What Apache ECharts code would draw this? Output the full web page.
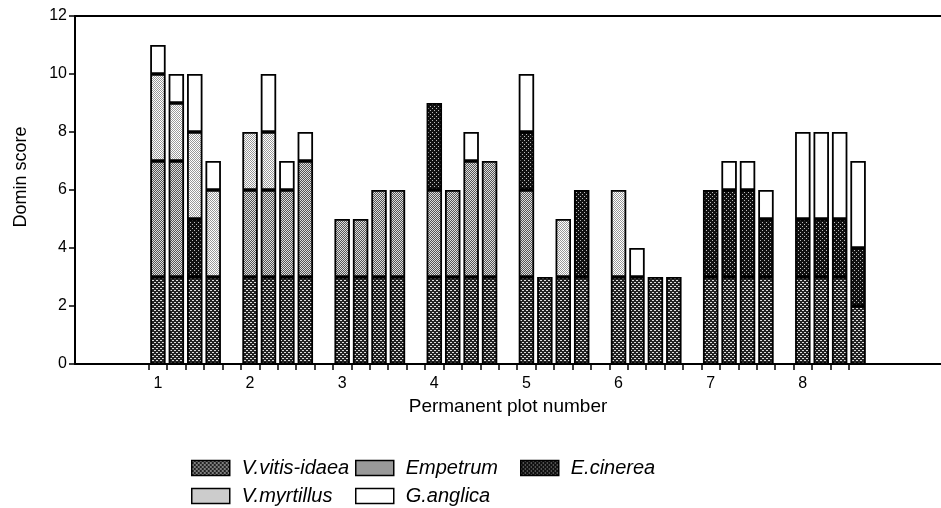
<!DOCTYPE html>
<html>
<head>
<meta charset="utf-8">
<script src="https://cdn.jsdelivr.net/npm/echarts@6/dist/echarts.min.js"></script>
<style>
html, body { margin: 0; background: #fff; }
#chart { width: 941px; height: 508px; }
</style>
</head>
<body>
<div id="chart"></div>
<script>
// permanent plots, 4 quadrats each
var plots = ['1', '2', '3', '4', '5', '6', '7', '8'];
// Domin scores per quadrat (32 bars, 4 per plot)
var vitisIdaea = [3,3,3,3, 3,3,3,3, 3,3,3,3, 3,3,3,3, 3,3,3,3, 3,3,3,3, 3,3,3,3, 3,3,3,2];
var empetrum   = [4,4,0,0, 3,3,3,4, 2,2,3,3, 3,3,4,4, 3,0,0,0, 0,0,0,0, 0,0,0,0, 0,0,0,0];
var cinerea    = [0,0,2,0, 0,0,0,0, 0,0,0,0, 3,0,0,0, 2,0,0,3, 0,0,0,0, 3,3,3,2, 2,2,2,2];
var myrtillus  = [3,2,3,3, 2,2,0,0, 0,0,0,0, 0,0,0,0, 0,0,2,0, 3,0,0,0, 0,0,0,0, 0,0,0,0];
var anglica    = [1,1,2,1, 0,2,1,1, 0,0,0,0, 0,0,1,0, 2,0,0,0, 0,1,0,0, 0,1,1,1, 3,3,3,3];
var yTicks = [0, 2, 4, 6, 8, 10, 12];

var LEAD = 4;      // empty slots before plot 1
var PER = 5;       // 4 bars + 1 gap
var NSLOT = 47;

var slots = [];
for (var i = 0; i < NSLOT; i++) slots.push('s' + i);

// x ticks sit on the slot edges from first bar of plot 1 to last bar of plot 8
var xTickEdges = [];
for (var e = LEAD; e <= LEAD + 7 * PER + 3; e++) xTickEdges.push(e);

function toSlots(arr) {
  var out = [];
  for (var i = 0; i < NSLOT; i++) out.push(null);
  for (var k = 0; k < arr.length; k++) {
    var g = Math.floor(k / 4), b = k % 4;
    out[LEAD + g * PER + b] = arr[k] ? arr[k] : null;
  }
  return out;
}

// halftone-ish fills
function dots(bg, fg, size, pts) {
  var c = document.createElement('canvas');
  c.width = c.height = size;
  var g = c.getContext('2d');
  g.fillStyle = bg;
  g.fillRect(0, 0, size, size);
  g.fillStyle = fg;
  pts.forEach(function (p) { g.fillRect(p[0], p[1], 1, 1); });
  return { image: c, repeat: 'repeat' };
}
var fills = {
  vv: dots('#222', '#ddd', 4, [[0,0],[1,0],[2,2],[3,2]]),
  emp: dots('#555', '#ddd', 2, [[0,0],[1,1]]),
  ecin: dots('#111', '#bbb', 4, [[0,0],[2,2]]),
  myrt: dots('#fff', '#999', 2, [[0,0],[1,1]]),
  gang: '#fff'
};

var names = ['V.vitis-idaea', 'Empetrum', 'E.cinerea', 'V.myrtillus', 'G.anglica'];
var datas = [vitisIdaea, empetrum, cinerea, myrtillus, anglica];
var keys = ['vv', 'emp', 'ecin', 'myrt', 'gang'];

var series = names.map(function (n, i) {
  return {
    name: n,
    type: 'bar',
    stack: 'all',
    barCategoryGap: '16%',
    data: toSlots(datas[i]),
    itemStyle: { color: fills[keys[i]], borderColor: '#000', borderWidth: 1.8 },
    emphasis: { disabled: true }
  };
});

var legendPos = [[191, 458], [355, 458], [520, 458], [191, 486], [355, 486]];
var legends = names.map(function (n, i) {
  return {
    data: [{ name: n, icon: 'rect' }],
    left: legendPos[i][0],
    top: legendPos[i][1],
    padding: 0,
    itemWidth: 38,
    itemHeight: 15,
    selectedMode: false,
    itemStyle: { borderColor: '#000', borderWidth: 1.5 },
    textStyle: { fontSize: 20, fontStyle: 'italic', color: '#000', padding: [0, 0, 0, 7] }
  };
});

var myChart = echarts.init(document.getElementById('chart'));
var option = {
  animation: false,
  textStyle: { fontFamily: 'Liberation Sans, Arial, sans-serif' },
  legend: legends,
  grid: { left: 75, right: -5, top: 16, bottom: 144 },
  xAxis: [
    {
      type: 'category',
      data: slots,
      position: 'bottom',
      axisLine: { lineStyle: { color: '#000', width: 2 } },
      axisTick: { show: false },
      axisLabel: {
        interval: 0,
        color: '#000',
        fontSize: 16,
        margin: 12,
        formatter: function (v, idx) {
          var r = idx - LEAD;
          if (r >= 0 && r % PER === 0 && r / PER < plots.length) return plots[r / PER];
          return '';
        }
      },
      name: 'Permanent plot number',
      nameLocation: 'middle',
      nameGap: 29,
      nameTextStyle: { fontSize: 19, color: '#000' }
    },
    {
      type: 'category',
      data: slots,
      position: 'top',
      axisLine: { lineStyle: { color: '#000', width: 2 } },
      axisTick: { show: false },
      axisLabel: { show: false }
    },
    {
      // tick-only axis on slot edges
      type: 'value',
      position: 'bottom',
      min: 0,
      max: NSLOT,
      axisLine: { show: false },
      splitLine: { show: false },
      axisLabel: { show: false },
      axisTick: {
        show: true,
        length: 6,
        customValues: xTickEdges,
        lineStyle: { color: '#000', width: 1.5 }
      }
    }
  ],
  yAxis: {
    type: 'value',
    min: yTicks[0],
    max: yTicks[yTicks.length - 1],
    interval: 2,
    axisLine: { show: true, lineStyle: { color: '#000', width: 2 } },
    axisTick: { show: true, length: 6, lineStyle: { color: '#000', width: 1.5 } },
    axisLabel: { color: '#000', fontSize: 16, margin: 8 },
    splitLine: { show: false },
    name: 'Domin score',
    nameLocation: 'middle',
    nameGap: 45,
    nameTextStyle: { fontSize: 18, color: '#000', padding: [0, 0, 0, 26] }
  },
  series: series
};
myChart.setOption(option);
</script>
</body>
</html>
